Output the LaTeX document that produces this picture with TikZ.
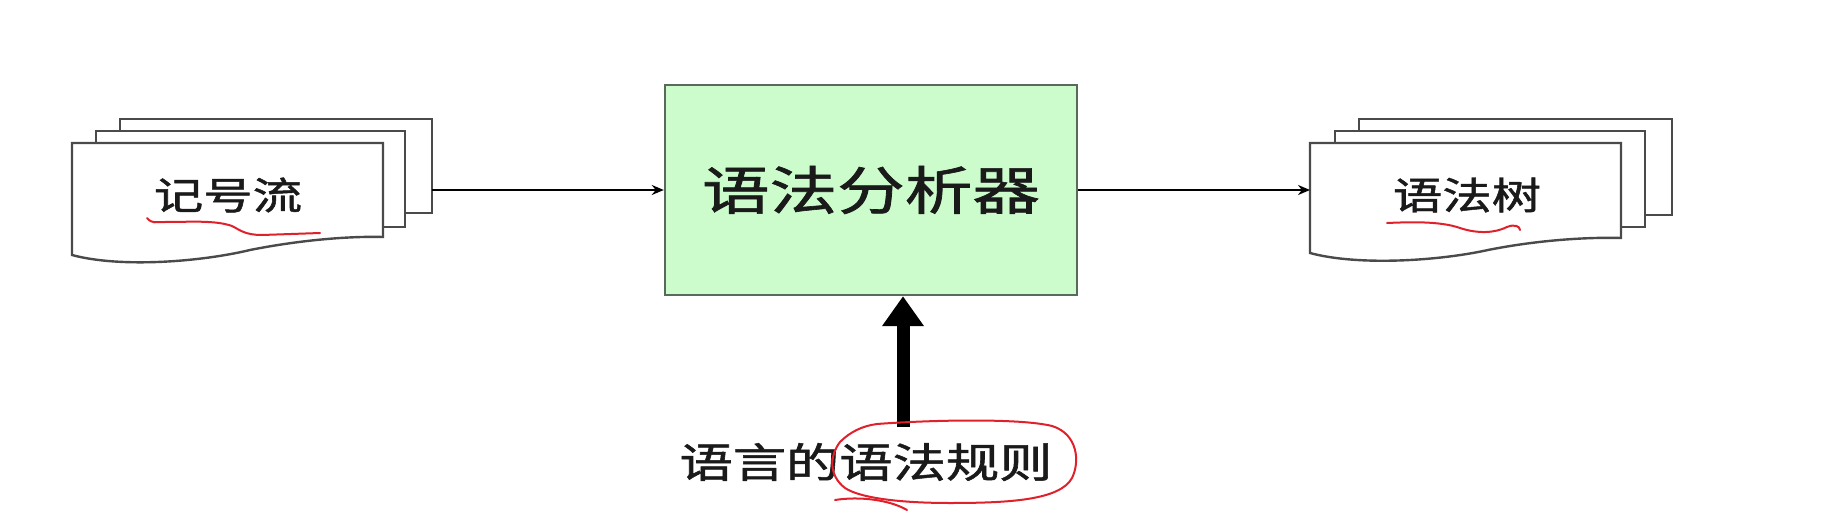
\documentclass[tikz,border=0pt]{standalone}
\usepackage{fontspec}
\newfontfamily\cjk[FakeBold=1.2]{Noto Sans CJK SC}
\usetikzlibrary{arrows.meta}
\definecolor{boxgreen}{HTML}{CCFCCC}
\definecolor{boxline}{HTML}{5A6A5A}
\definecolor{pageline}{HTML}{4A4A4A}
\definecolor{ink}{HTML}{1A1A1A}
\definecolor{penred}{HTML}{E0202A}
\begin{document}
\begin{tikzpicture}[x=1pt,y=-1pt,
  page/.style={draw=pageline,line width=2.4pt,fill=white},
  flow/.style={draw=black,line width=2.2pt,-{Stealth[length=12pt,width=10pt]}},
  bigarrow/.style={draw=black,line width=13pt,-{Triangle[length=30pt,width=40pt]}},
  pen/.style={draw=penred,line width=2pt,line cap=round,line join=round},
  doclabel/.style={font=\cjk\fontsize{38}{40}\selectfont,text=ink,inner sep=0pt},
]
\useasboundingbox (0,0) rectangle (1825,519);
\fill[white] (0,0) rectangle (1825,519);

% left document stack
\draw[page] (120,119) rectangle (432,213);
\draw[page] (96,131) rectangle (405,227);
\draw[page] (72,143) -- (383,143) -- (383,237)
  .. controls (350,236) and (300,240) .. (250,250)
  .. controls (200,262) and (120,268) .. (72,255) -- cycle;
\node[doclabel] (tok) at (228,195) {\scalebox{1.3}[1]{记号流}};
\coordinate (lout) at (432,190);

% right document stack
\draw[page] (1359,119) rectangle (1672,215);
\draw[page] (1335,131) rectangle (1645,227);
\draw[page] (1310,143) -- (1621,143) -- (1621,238)
  .. controls (1588,237) and (1538,240) .. (1488,250)
  .. controls (1438,261) and (1358,266) .. (1310,253) -- cycle;
\node[doclabel] (tree) at (1467,195) {\scalebox{1.3}[1]{语法树}};
\coordinate (rin) at (1310,190);

% parser box
\node[draw=boxline,line width=2.4pt,fill=boxgreen,minimum width=412pt,minimum height=210pt,
  inner sep=0pt,font=\cjk\fontsize{52}{54}\selectfont,text=ink] (parser) at (871,190)
  {\scalebox{1.3}[1]{语法分析器}};

% grammar rules
\node[font=\cjk\fontsize{41}{43}\selectfont,text=ink,inner sep=0pt] (rules) at (866,462)
  {\scalebox{1.3}[1]{语言的语法规则}};
\coordinate (rs) at (903,427);

% connectors
\draw[flow] (lout) -- (parser.west |- lout);
\draw[flow] (parser.east |- rin) -- (rin);
\draw[bigarrow] (rs) -- (rs |- parser.south);

% red pen marks
\draw[pen] (147,218) .. controls (152,224) and (156,222) .. (165,222)
  .. controls (190,222) and (215,220) .. (232,226)
  .. controls (240,230) and (245,235) .. (262,235)
  -- (320,233);
\draw[pen] (1387,223) .. controls (1410,222) and (1440,221) .. (1460,228)
  .. controls (1478,234) and (1495,233) .. (1507,227)
  .. controls (1514,224) and (1520,226) .. (1520,230);
\draw[pen] (877,424) .. controls (930,420) and (1020,418) .. (1052,426)
  .. controls (1078,434) and (1080,462) .. (1072,478)
  .. controls (1060,500) and (1010,503) .. (950,503)
  .. controls (900,503) and (860,498) .. (845,488)
  .. controls (828,475) and (830,455) .. (840,442)
  .. controls (850,432) and (862,426) .. (877,424);
\draw[pen] (835,500) .. controls (860,496) and (890,500) .. (907,510);
\end{tikzpicture}
\end{document}
